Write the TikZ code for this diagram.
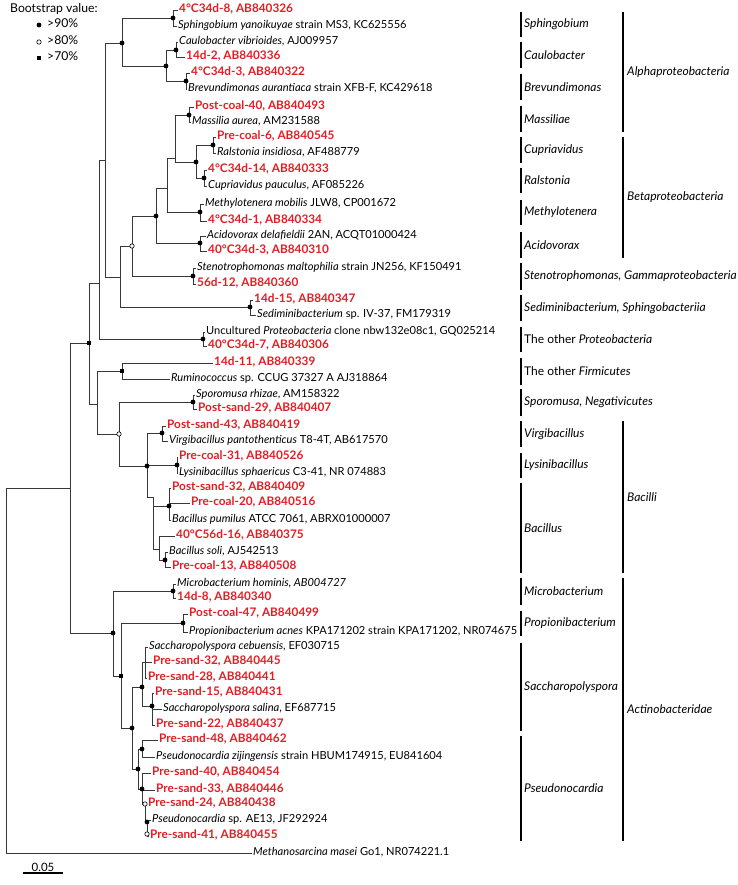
\documentclass[tikz,border=0pt]{standalone}
\usepackage{fontspec}
\setmainfont{Lato}
\usepackage{xcolor}
\usepackage{tikz}
\usetikzlibrary{calc}
\definecolor{isored}{RGB}{226,30,36}
\definecolor{branch}{RGB}{55,55,55}

\begin{document}
\begin{tikzpicture}[x=1pt,y=-1pt,
	br/.style={draw=branch,line width=0.75pt},
	lf/.style={anchor=west,inner sep=1pt,text height=8pt,text depth=2.4pt,font=\fontsize{11.1}{13}\selectfont},
	iso/.style={lf,text=isored,font=\fontsize{11.8}{13}\selectfont\bfseries},
	clade/.style={anchor=west,inner sep=0pt,font=\fontsize{12}{13}\selectfont\itshape},
	cbar/.style={line width=1.6pt},
	bsfull/.style={fill=black},
	bsopen/.style={draw=black,fill=white,line width=0.6pt},
	bssq/.style={fill=black}]
	\useasboundingbox (0,0) rectangle (737,885);

	\node[anchor=west,inner sep=0pt,font=\fontsize{12.2}{13}\selectfont] (bsv) at (10,9) {Bootstrap value:};
	\coordinate (k1) at (39,25);
	\coordinate (k2) at (39,42);
	\coordinate (k3) at (39,58);
	\fill[bsfull] (k1) circle (2.4pt);
	\filldraw[bsopen] (k2) circle (2.2pt);
	\fill[bssq] (k3) ++(-1.9,-1.9) rectangle ++(3.8,3.8);
	\node[lf,font=\fontsize{12.2}{13}\selectfont] (k1t) at (46,25) {>90\%};
	\node[lf,font=\fontsize{12.2}{13}\selectfont] (k2t) at (46,42) {>80\%};
	\node[lf,font=\fontsize{12.2}{13}\selectfont] (k3t) at (46,58) {>70\%};

	\node[iso] (l1) at (178,10) {4°C34d-8, AB840326};
	\node[lf] (l2) at (177,26) {\textit{Sphingobium yanoikuyae} strain MS3, KC625556};
	\node[lf] (l3) at (178,42) {\textit{Caulobacter vibrioides}, AJ009957};
	\node[iso] (l4) at (185,57) {14d-2, AB840336};
	\node[iso] (l5) at (190,73) {4°C34d-3, AB840322};
	\node[lf] (l6) at (187,89) {\textit{Brevundimonas aurantiaca} strain XFB-F, KC429618};
	\node[iso] (l7) at (194,107) {Post-coal-40, AB840493};
	\node[lf] (l8) at (191,122) {\textit{Massilia aurea}, AM231588};
	\node[iso] (l9) at (216,137) {Pre-coal-6, AB840545};
	\node[lf] (l10) at (216,153) {\textit{Ralstonia insidiosa}, AF488779};
	\node[iso] (l11) at (207,170) {4°C34d-14, AB840333};
	\node[lf] (l12) at (207,186) {\textit{Cupriavidus pauculus}, AF085226};
	\node[lf] (l13) at (204,204) {\textit{Methylotenera mobilis} JLW8, CP001672};
	\node[iso] (l14) at (207,221) {4°C34d-1, AB840334};
	\node[lf] (l15) at (206,236) {\textit{Acidovorax delafieldii} 2AN, ACQT01000424};
	\node[iso] (l16) at (207,251) {40°C34d-3, AB840310};
	\node[lf] (l17) at (196,268) {\textit{Stenotrophomonas maltophilia} strain JN256, KF150491};
	\node[iso] (l18) at (196,284) {56d-12, AB840360};
	\node[iso] (l19) at (253,300) {14d-15, AB840347};
	\node[lf] (l20) at (256,315) {\textit{Sediminibacterium} sp. IV-37, FM179319};
	\node[lf] (l21) at (205,332) {Uncultured \textit{Proteobacteria} clone nbw132e08c1, GQ025214};
	\node[iso] (l22) at (207,346) {40°C34d-7, AB840306};
	\node[iso] (l23) at (213,363) {14d-11, AB840339};
	\node[lf] (l24) at (170,379) {\textit{Ruminococcus} sp. CCUG 37327 A AJ318864};
	\node[lf] (l25) at (195,395) {\textit{Sporomusa rhizae}, AM158322};
	\node[iso] (l26) at (197,409) {Post-sand-29, AB840407};
	\node[iso] (l27) at (166,426) {Post-sand-43, AB840419};
	\node[lf] (l28) at (168,441) {\textit{Virgibacillus pantothenticus} T8-4T, AB617570};
	\node[iso] (l29) at (178,457) {Pre-coal-31, AB840526};
	\node[lf] (l30) at (178,473) {\textit{Lysinibacillus sphaericus} C3-41, NR 074883};
	\node[iso] (l31) at (171,488) {Post-sand-32, AB840409};
	\node[iso] (l32) at (190,503) {Pre-coal-20, AB840516};
	\node[lf] (l33) at (171,520) {\textit{Bacillus pumilus} ATCC 7061, ABRX01000007};
	\node[iso] (l34) at (175,536) {40°C56d-16, AB840375};
	\node[lf] (l35) at (168,552) {\textit{Bacillus soli}, AJ542513};
	\node[iso] (l36) at (171,567) {Pre-coal-13, AB840508};
	\node[lf] (l37) at (176,584) {\textit{Microbacterium hominis, AB004727}};
	\node[iso] (l38) at (176,598) {14d-8, AB840340};
	\node[iso] (l39) at (188,614) {Post-coal-47, AB840499};
	\node[lf] (l40) at (188,632) {\textit{Propionibacterium acnes} KPA171202 strain KPA171202, NR074675};
	\node[lf] (l41) at (148,647) {\textit{Saccharopolyspora cebuensis}, EF030715};
	\node[iso] (l42) at (152,662) {Pre-sand-32, AB840445};
	\node[iso] (l43) at (147,678) {Pre-sand-28, AB840441};
	\node[iso] (l44) at (154,693) {Pre-sand-15, AB840431};
	\node[lf] (l45) at (162,709) {\textit{Saccharopolyspora salina}, EF687715};
	\node[iso] (l46) at (155,725) {Pre-sand-22, AB840437};
	\node[iso] (l47) at (158,740) {Pre-sand-48, AB840462};
	\node[lf] (l48) at (155,757) {\textit{Pseudonocardia zijingensis} strain HBUM174915, EU841604};
	\node[iso] (l49) at (151,773) {Pre-sand-40, AB840454};
	\node[iso] (l50) at (155,790) {Pre-sand-33, AB840446};
	\node[iso] (l51) at (147,804) {Pre-sand-24, AB840438};
	\node[lf] (l52) at (151,820) {\textit{Pseudonocardia} sp. AE13, JF292924};
	\node[iso] (l53) at (149,836) {Pre-sand-41, AB840455};
	\node[lf] (l54) at (252,853) {\textit{Methanosarcina masei} Go1, NR074221.1};

	\coordinate (sph) at (173,18);
	\coordinate (cau) at (176,50);
	\coordinate (bre) at (186,81);
	\coordinate (caubre) at (166,66);
	\coordinate (alpha) at (122,43);
	\coordinate (mas) at (189,115);
	\coordinate (ral) at (213,145);
	\coordinate (cup) at (204,178);
	\coordinate (ralcup) at (196,162);
	\coordinate (masral) at (175,158);
	\coordinate (methy) at (200,212);
	\coordinate (betaa) at (167,188);
	\coordinate (acid) at (200,243);
	\coordinate (beta) at (156,216);
	\coordinate (steno) at (193,276);
	\coordinate (gbeta) at (132,246);
	\coordinate (sedi) at (250,307);
	\coordinate (dprot) at (120,277);
	\coordinate (pone) at (105,160);
	\coordinate (oprot) at (203,339);
	\coordinate (proteo) at (99,283);
	\coordinate (ofirm) at (122,371);
	\coordinate (sporo) at (193,402);
	\coordinate (virgi) at (162,433);
	\coordinate (lysini) at (177,465);
	\coordinate (pumi) at (169,506);
	\coordinate (solip) at (165,560);
	\coordinate (soli) at (159,549);
	\coordinate (bacil) at (153,497);
	\coordinate (bacilli) at (147,466);
	\coordinate (negbac) at (119,434);
	\coordinate (firm) at (97,404);
	\coordinate (bigsq) at (89,343);
	\coordinate (micro) at (173,591);
	\coordinate (propi) at (183,623);
	\coordinate (sacA) at (145,662);
	\coordinate (sacB) at (152,706);
	\coordinate (sacc) at (142,687);
	\coordinate (pzij) at (142,749);
	\coordinate (psA) at (142,789);
	\coordinate (psB) at (145,804);
	\coordinate (psC) at (147,822);
	\coordinate (psD) at (147,834);
	\coordinate (pseudo) at (138,769);
	\coordinate (saps) at (132,728);
	\coordinate (actq) at (121,676);
	\coordinate (actino) at (113,633);
	\coordinate (top) at (70,488);
	\coordinate (rt) at (6,670);

	\foreach \p/\c in {rt/top,rt/l54.west,top/bigsq,top/actino,
		bigsq/proteo,bigsq/firm,proteo/pone,proteo/oprot,pone/alpha,pone/dprot,
		alpha/sph,alpha/caubre,caubre/cau,caubre/bre,
		dprot/gbeta,dprot/sedi,gbeta/beta,gbeta/steno,beta/betaa,beta/acid,
		betaa/masral,betaa/methy,masral/mas,masral/ralcup,ralcup/ral,ralcup/cup,
		firm/ofirm,firm/negbac,negbac/sporo,negbac/bacilli,
		bacilli/virgi,bacilli/lysini,bacilli/bacil,bacil/pumi,bacil/soli,soli/solip,
		actino/micro,actino/actq,actq/propi,actq/saps,saps/sacc,saps/pseudo,
		sacc/sacA,sacc/sacB,pseudo/pzij,pseudo/psA,psA/psB,psB/psC,psC/psD}
		\draw[br] (\p) |- (\c);
	\foreach \p/\c in {sph/l1,sph/l2,cau/l3,cau/l4,bre/l5,bre/l6,mas/l7,mas/l8,
		ral/l9,ral/l10,cup/l11,cup/l12,methy/l13,methy/l14,acid/l15,acid/l16,
		steno/l17,steno/l18,sedi/l19,sedi/l20,oprot/l21,oprot/l22,ofirm/l23,ofirm/l24,
		sporo/l25,sporo/l26,virgi/l27,virgi/l28,lysini/l29,lysini/l30,
		pumi/l31,pumi/l32,pumi/l33,soli/l34,solip/l35,solip/l36,micro/l37,micro/l38,
		propi/l39,propi/l40,sacA/l41,sacA/l42,sacA/l43,sacB/l44,sacB/l45,sacB/l46,
		pzij/l47,pzij/l48,psA/l49,psA/l50,psB/l51,psC/l52,psD/l53}
		\draw[br] (\p) |- (\c.west);

	\foreach \n in {sph,cau,bre,caubre,alpha,mas,ral,cup,ralcup,methy,acid,beta,steno,
		sedi,oprot,sporo,virgi,lysini,bacilli,pumi,solip,micro,propi,actino,
		sacc,sacB,saps,pzij,pseudo,psA,psC}
		\fill[bsfull] (\n) circle (2.4pt);
	\foreach \n in {gbeta,negbac,psB,psD}
		\filldraw[bsopen] (\n) circle (2.2pt);
	\foreach \n in {bigsq,ofirm,actq}
		\fill[bssq] (\n) ++(-1.9,-1.9) rectangle ++(3.8,3.8);

	\foreach \a/\b/\t in {12/37/Sphingobium,42/68/Caulobacter,74/100/Brevundimonas,
		106/132/Massiliae,137/163/Cupriavidus,168/193/Ralstonia,200/225/Methylotenera,
		232/258/Acidovorax,263/290/{Stenotrophomonas, Gammaproteobacteria},
		295/321/{Sediminibacterium, Sphingobacteriia},
		327/352/{{\upshape The other }Proteobacteria},358/385/{{\upshape The other }Firmicutes},
		389/416/{Sporomusa, Negativicutes},421/447/Virgibacillus,453/478/Lysinibacillus,
		483/573/Bacillus,578/605/Microbacterium,611/636/Propionibacterium,
		643/731/Saccharopolyspora,736/841/Pseudonocardia}{
		\draw[cbar] (521,\a) -- (521,\b);
		\node[clade] (g\a) at (524,{(\a+\b)/2}) {\t};
	}
	\foreach \a/\b/\t in {12/132/Alphaproteobacteria,137/258/Betaproteobacteria,
		421/573/Bacilli,578/841/Actinobacteridae}{
		\draw[cbar] (623,\a) -- (623,\b);
		\node[clade] (h\a) at (627,{(\a+\b)/2}) {\t};
	}

	\coordinate (sbl) at (23,873);
	\coordinate (sbr) at (63,873);
	\draw[line width=1.4pt] (sbl) -- (sbr);
	\node[anchor=south,inner sep=1pt,font=\fontsize{11.5}{13}\selectfont] (sbt) at ($(sbl)!0.5!(sbr)$) {0.05};
\end{tikzpicture}
\end{document}
